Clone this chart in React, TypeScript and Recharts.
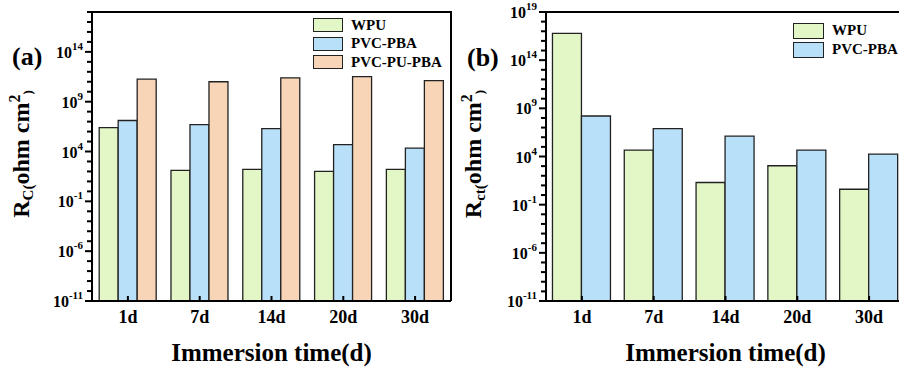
import { BarChart, Bar, XAxis, YAxis } from "recharts";

// immersion times
const days = ["1d", "7d", "14d", "20d", "30d"];

// (a) coating resistance Rc, ohm cm2
const rcWPU = [2.5e6, 1.3e2, 1.6e2, 1.0e2, 1.6e2];
const rcPVC = [1.3e7, 5e6, 2e6, 5e4, 2.2e4];
const rcPVCPU = [1.8e11, 1.0e11, 2.5e11, 3.2e11, 1.3e11];

// (b) charge transfer resistance Rct, ohm cm2
const rctWPU = [6e16, 4.7e4, 20, 1.1e3, 4];
const rctPVC = [1.6e8, 8e6, 1.3e6, 4.7e4, 1.8e4];

// labelled decades on the y axes
const majorA = [-11, -6, -1, 4, 9, 14];
const majorB = [-11, -6, -1, 4, 9, 14, 19];
const domainA: [number, number] = [1e-11, 1e18];
const domainB: [number, number] = [1e-11, 1e19];

const FONT = "'Liberation Serif', 'Times New Roman', serif";
const GREEN = "#e2f6c6";
const BLUE = "#b8e0f9";
const PEACH = "#f9d5b7";

const dataA = days.map((d, i) => ({ day: d, wpu: rcWPU[i], pvc: rcPVC[i], pvcpu: rcPVCPU[i] }));
const dataB = days.map((d, i) => ({ day: d, wpu: rctWPU[i], pvc: rctPVC[i] }));

// one tick per decade, labels only on the major ones
function decades(lo: number, hi: number) {
  const out: number[] = [];
  for (let e = lo; e <= hi; e++) out.push(Math.pow(10, e));
  return out;
}

function LogTick(props: any) {
  const { x, y, payload, major } = props;
  const exp = Math.round(Math.log10(payload.value));
  const isMajor = major.includes(exp);
  // x is the axis line here (tickSize 0, tickMargin 0)
  return (
    <g>
      <rect x={x - (isMajor ? 7 : 5)} y={y - 1} width={isMajor ? 7 : 5} height={2} fill="#000" />
      {isMajor && (
        <text x={x - 9} y={y + 6} textAnchor="end" fontFamily={FONT} fontWeight="bold" fontSize={16} fill="#000">
          10
          <tspan fontSize={11} dy={-8}>{exp}</tspan>
        </text>
      )}
    </g>
  );
}

function DayTick(props: any) {
  const { x, y, payload } = props;
  return (
    <g>
      <rect x={x - 1} y={y - 5} width={2} height={5} fill="#000" />
      <text x={x} y={y + 22} textAnchor="middle" fontFamily={FONT} fontWeight="bold" fontSize={18} fill="#000">
        {payload.value}
      </text>
    </g>
  );
}

function yTitle(cx: number, cy: number, sub: string) {
  return () => (
    <text
      transform={`translate(${cx},${cy}) rotate(-90)`}
      textAnchor="middle"
      fontFamily={FONT}
      fontWeight="bold"
      fontSize={24}
      fill="#000"
    >
      R<tspan fontSize={15} dy={4}>{sub}</tspan>
      <tspan fontSize={15}>(</tspan>
      <tspan dy={-4}>ohm cm</tspan>
      <tspan fontSize={16} dy={-9}>2</tspan>
      <tspan fontSize={13} dy={12}>)</tspan>
    </text>
  );
}

function xTitle(cx: number, y: number) {
  return () => (
    <text x={cx} y={y} textAnchor="middle" fontFamily={FONT} fontWeight="bold" fontSize={25} fill="#000">
      Immersion time(d)
    </text>
  );
}

function LegendBox({ items, left, top, w, h, gap }: any) {
  return (
    <div style={{ position: "absolute", left, top, fontFamily: FONT, fontWeight: "bold", fontSize: 15 }}>
      {items.map((it: any) => (
        <div key={it.label} style={{ display: "flex", alignItems: "center", height: h + gap }}>
          <div style={{ width: w, height: h, background: it.color, border: "1.5px solid #222", boxSizing: "border-box" }} />
          <span style={{ marginLeft: 8, lineHeight: 1 }}>{it.label}</span>
        </div>
      ))}
    </div>
  );
}

const axisStroke = { stroke: "#000", strokeWidth: 2 };

export default function App() {
  return (
    <div style={{ position: "fixed", left: 0, top: 0, width: 899, height: 368, overflow: "hidden", background: "#fff" }}>
      <div style={{ position: "absolute", left: 0, top: 0 }}>
        <BarChart width={453} height={368} data={dataA} margin={{ top: 12, right: 2, bottom: 0, left: 0 }} barCategoryGap="10%" barGap={0}>
          <XAxis dataKey="day" height={67} tick={<DayTick />} tickSize={0} tickMargin={0} axisLine={axisStroke} tickLine={false} label={xTitle(271.5, 361)} />
          <YAxis
            type="number"
            scale="log"
            domain={domainA}
            allowDataOverflow
            ticks={decades(-11, 18)}
            interval={0}
            width={92}
            tick={<LogTick major={majorA} />}
            tickSize={0}
            tickMargin={0}
            tickLine={false}
            axisLine={axisStroke}
            label={yTitle(29, 154, "C")}
          />
          <Bar dataKey="wpu" fill={GREEN} stroke="#222" strokeWidth={1.3} isAnimationActive={false} />
          <Bar dataKey="pvc" fill={BLUE} stroke="#222" strokeWidth={1.3} isAnimationActive={false} />
          <Bar dataKey="pvcpu" fill={PEACH} stroke="#222" strokeWidth={1.3} isAnimationActive={false} />
        </BarChart>
      </div>
      <div style={{ position: "absolute", left: 450, top: 0 }}>
        <BarChart width={457} height={368} data={dataB} margin={{ top: 12, right: 2, bottom: 0, left: 0 }} barCategoryGap="9%" barGap={0}>
          <XAxis dataKey="day" height={67} tick={<DayTick />} tickSize={0} tickMargin={0} axisLine={axisStroke} tickLine={false} label={xTitle(275.5, 361)} />
          <YAxis
            type="number"
            scale="log"
            domain={domainB}
            allowDataOverflow
            ticks={decades(-11, 19)}
            interval={0}
            width={96}
            tick={<LogTick major={majorB} />}
            tickSize={0}
            tickMargin={0}
            tickLine={false}
            axisLine={axisStroke}
            label={yTitle(31, 154, "ct")}
          />
          <Bar dataKey="wpu" fill={GREEN} stroke="#222" strokeWidth={1.3} isAnimationActive={false} />
          <Bar dataKey="pvc" fill={BLUE} stroke="#222" strokeWidth={1.3} isAnimationActive={false} />
        </BarChart>
      </div>

      {/* plot frames: top and right edges */}
      <div style={{ position: "absolute", left: 91, top: 11, width: 360, height: 2, background: "#000" }} />
      <div style={{ position: "absolute", left: 450, top: 11, width: 2, height: 290, background: "#000" }} />
      <div style={{ position: "absolute", left: 545, top: 11, width: 360, height: 2, background: "#000" }} />

      <div style={{ position: "absolute", left: 12, top: 44, fontFamily: FONT, fontWeight: "bold", fontSize: 26, lineHeight: 1 }}>(a)</div>
      <div style={{ position: "absolute", left: 467, top: 45, fontFamily: FONT, fontWeight: "bold", fontSize: 26, lineHeight: 1 }}>(b)</div>

      <LegendBox
        left={313}
        top={16}
        w={30}
        h={14}
        gap={4.5}
        items={[
          { label: "WPU", color: GREEN },
          { label: "PVC-PBA", color: BLUE },
          { label: "PVC-PU-PBA", color: PEACH },
        ]}
      />
      <LegendBox
        left={793}
        top={21}
        w={31}
        h={16}
        gap={3}
        items={[
          { label: "WPU", color: GREEN },
          { label: "PVC-PBA", color: BLUE },
        ]}
      />
    </div>
  );
}
